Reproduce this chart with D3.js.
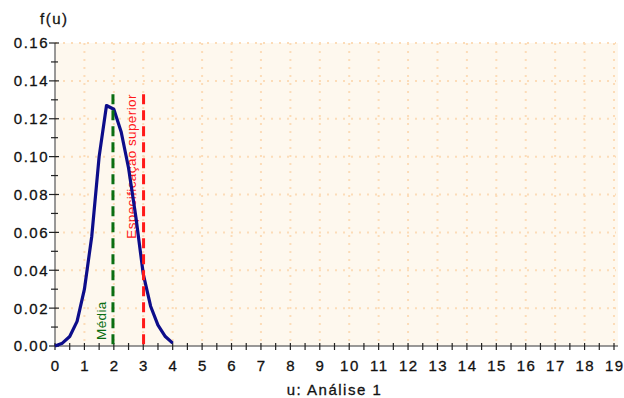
<!DOCTYPE html>
<html>
<head>
<meta charset="utf-8">
<script src="https://cdn.jsdelivr.net/npm/d3@7"></script>
<style>
  body { margin: 0; background: #fff; }
  text { font-family: "Liberation Sans", Arial, sans-serif; }
  .lbl { stroke: #111; stroke-width: 0.3; }
</style>
</head>
<body>
<div class="chart"></div>
<script>
// density curve
var uValues = [0, 0.25, 0.5, 0.75, 1.0, 1.25, 1.5, 1.75, 2.0, 2.25, 2.5, 2.75, 3.0, 3.25, 3.5, 3.75, 4.0];
var fValues = [0, 0.0015, 0.005, 0.013, 0.03, 0.058, 0.1, 0.127, 0.125, 0.113, 0.094, 0.068, 0.038, 0.021, 0.011, 0.005, 0.0015];

var markers = [
    { label: "Média", u: 1.97, top: 0.133, color: "#0a6e12" },
    { label: "Especificação superior", u: 3.01, top: 0.133, color: "#ff1a1a" }
];

var xTicks = d3.range(0, 20);
var yTicks = [0, 0.02, 0.04, 0.06, 0.08, 0.10, 0.12, 0.14, 0.16];

var svgWidth = 624, svgHeight = 398;
var margin = { top: 43, right: 8, bottom: 52, left: 55 };
var width = svgWidth - margin.left - margin.right,
    height = svgHeight - margin.top - margin.bottom;

var svg = d3.select(".chart").append("svg")
    .attr("width", svgWidth)
    .attr("height", svgHeight);

var g = svg.append("g")
    .attr("transform", "translate(" + margin.left + "," + margin.top + ")");

var x = d3.scaleLinear().domain([0, 19]).range([0, 559]);
var y = d3.scaleLinear().domain([0, 0.16]).range([height, 0]);

// plot background
g.append("rect")
    .attr("x", 0).attr("y", 0)
    .attr("width", width + 2).attr("height", height)
    .attr("fill", "#fef8ee");

// dotted grid
var grid = g.append("g").attr("stroke", "#fcdcb8").attr("stroke-width", 2)
    .attr("stroke-dasharray", "2,6");
grid.selectAll(".vg").data(xTicks.slice(1)).enter().append("line")
    .attr("x1", d => x(d)).attr("x2", d => x(d))
    .attr("y1", 0).attr("y2", height);
grid.selectAll(".hg").data(yTicks.slice(1)).enter().append("line")
    .attr("x1", 0).attr("x2", width)
    .attr("y1", d => y(d)).attr("y2", d => y(d));

// axes lines
g.append("line").attr("x1", 0).attr("x2", 0).attr("y1", 0).attr("y2", height)
    .attr("stroke", "#777").attr("stroke-width", 1.5);
g.append("line").attr("x1", 0).attr("x2", width + 2).attr("y1", height).attr("y2", height)
    .attr("stroke", "#777").attr("stroke-width", 1.5);

// y ticks (major + minor)
var yMinor = d3.range(0, 0.1601, 0.01);
g.selectAll(".ytk").data(yMinor).enter().append("line")
    .attr("x1", (d, i) => i % 2 === 0 ? -6 : -4)
    .attr("x2", (d, i) => i % 2 === 0 ? 4 : 3)
    .attr("y1", d => y(d)).attr("y2", d => y(d))
    .attr("stroke", "#222").attr("stroke-width", 1.2);
g.selectAll(".ylab").data(yTicks).enter().append("text")
    .attr("class", "lbl")
    .attr("x", -6).attr("y", d => y(d)).attr("dy", "0.36em")
    .attr("text-anchor", "end")
    .attr("font-size", 15).attr("letter-spacing", 1.5).attr("fill", "#111")
    .text(d => d3.format(".2f")(d));

// x ticks (major + minor)
var xMinor = d3.range(0, 19.01, 0.5);
g.selectAll(".xtk").data(xMinor).enter().append("line")
    .attr("x1", d => x(d)).attr("x2", d => x(d))
    .attr("y1", height - 3).attr("y2", height + 4)
    .attr("stroke", "#222").attr("stroke-width", 1.2);
g.selectAll(".xlab").data(xTicks).enter().append("text")
    .attr("class", "lbl")
    .attr("x", d => x(d) + 0.75).attr("y", height + 25)
    .attr("text-anchor", "middle")
    .attr("font-size", 15).attr("letter-spacing", 1.5).attr("fill", "#111")
    .text(d => d);

// axis titles
svg.append("text").attr("class", "lbl").attr("x", 40).attr("y", 24)
    .attr("font-size", 15).attr("letter-spacing", 1.5).attr("fill", "#111").text("f(u)");
svg.append("text").attr("class", "lbl").attr("x", margin.left + x(9.5)).attr("y", 395)
    .attr("text-anchor", "middle")
    .attr("font-size", 15).attr("letter-spacing", 1.5).attr("fill", "#111").text("u: Análise 1");

// marker labels (rotated), drawn under the lines
g.append("text")
    .attr("transform", "translate(" + (x(markers[0].u) - 7) + "," + (height - 6) + ") rotate(-90)")
    .attr("font-size", 13.5).attr("letter-spacing", 0.4).attr("fill", markers[0].color)
    .text(markers[0].label);
g.append("text")
    .attr("transform", "translate(" + (x(markers[1].u) - 7.5) + "," + y(markers[1].top) + ") rotate(-90)")
    .attr("text-anchor", "end")
    .attr("font-size", 13.5).attr("letter-spacing", 0.4).attr("fill", markers[1].color)
    .text(markers[1].label);

// density curve
var line = d3.line()
    .x(function(d, i) { return x(uValues[i]); })
    .y(function(d) { return y(d); });
g.append("path").datum(fValues)
    .attr("d", line)
    .attr("fill", "none")
    .attr("stroke", "#0d0d8a")
    .attr("stroke-width", 3.2)
    .attr("stroke-linejoin", "round");

// marker lines
g.selectAll(".mk").data(markers).enter().append("line")
    .attr("x1", d => x(d.u)).attr("x2", d => x(d.u))
    .attr("y1", d => y(d.top)).attr("y2", height)
    .attr("stroke", d => d.color).attr("stroke-width", 3)
    .attr("stroke-dasharray", "10,6");
</script>
</body>
</html>
